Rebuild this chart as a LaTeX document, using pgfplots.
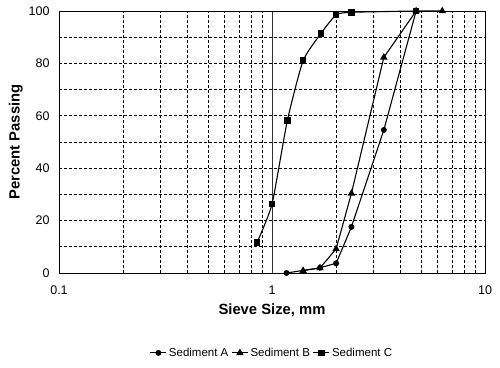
\documentclass[border=0pt]{standalone}
\usepackage{pgfplots}
\pgfplotsset{compat=1.18}
\usepackage{fontspec}
\setmainfont{Liberation Sans}
\begin{document}
\begin{tikzpicture}[x=1bp,y=1bp]
\begin{axis}[
  scale only axis, width=426bp, height=262bp,
  at={(0,0)}, anchor=south west,
  xmode=log, xmin=0.1, xmax=10, ymin=0, ymax=100,
  log basis x=10,
  xtick={0.1,1,10}, xticklabels={0.1,1,10},
  minor xtick={0.2,0.3,0.4,0.5,0.6,0.7,0.8,0.9,2,3,4,5,6,7,8,9},
  ytick={0,20,40,60,80,100},
  minor ytick={10,30,50,70,90},
  xmajorgrids, xminorgrids, ymajorgrids, yminorgrids,
  x grid style={black!80, line width=0.9bp},
  minor x grid style={black, line width=0.7bp, dash pattern=on 3bp off 2bp},
  y grid style={black, line width=0.7bp, dash pattern=on 3bp off 2bp},
  minor y grid style={black, line width=0.7bp, dash pattern=on 3bp off 2bp},
  major tick length=0pt, minor tick length=0pt,
  axis line style={black, line width=0.9bp},
  tick label style={font=\fontsize{12.5bp}{14bp}\selectfont},
  /pgf/number format/assume math mode=true,
  xticklabel style={yshift=-9bp},
  yticklabel style={xshift=-6bp},
  xlabel={\textbf{Sieve Size, mm}},
  ylabel={\textbf{Percent Passing}},
  label style={font=\fontsize{14.8bp}{17bp}\selectfont},
  xlabel style={yshift=-3bp},
  ylabel style={yshift=-1bp},
  legend columns=3,
  legend style={draw=none, fill=none, at={(0.5,-0.305)}, anchor=center,
    font=\fontsize{11.5bp}{13bp}\selectfont, column sep=1bp,
    inner sep=0pt,
    /tikz/every odd column/.append style={column sep=0bp}},
  legend image code/.code={
    \draw[#1] (0bp,0bp) -- (16bp,0bp);
    \draw[#1, only marks] plot coordinates {(8bp,0bp)};
  },
  clip=false,
]
\addplot[black, line width=1.1bp, mark=*, mark size=2.4bp]
  coordinates {(1.17,0) (1.68,2) (2.0,3.7) (2.36,17.6) (3.35,54.6) (4.75,100)};
\addlegendentry{Sediment A}
\addplot[black, line width=1.1bp, mark=triangle*, mark size=3.2bp]
  coordinates {(1.4,0.9) (1.68,1.9) (2.0,9.2) (2.36,30.4) (3.35,82.3) (4.75,100) (6.3,100)};
\addlegendentry{Sediment B}
\addplot[black, line width=1.1bp, smooth, tension=0.35, mark=square*, mark size=2.8bp]
  coordinates {(0.85,11.6) (1.0,26.3) (1.18,58.1) (1.4,81) (1.7,91.5) (2.0,98.5) (2.36,99.5) (4.75,100)};
\addlegendentry{Sediment C}
\end{axis}
\useasboundingbox (-59bp,-95bp) rectangle (441bp,273bp);
\end{tikzpicture}
\end{document}
